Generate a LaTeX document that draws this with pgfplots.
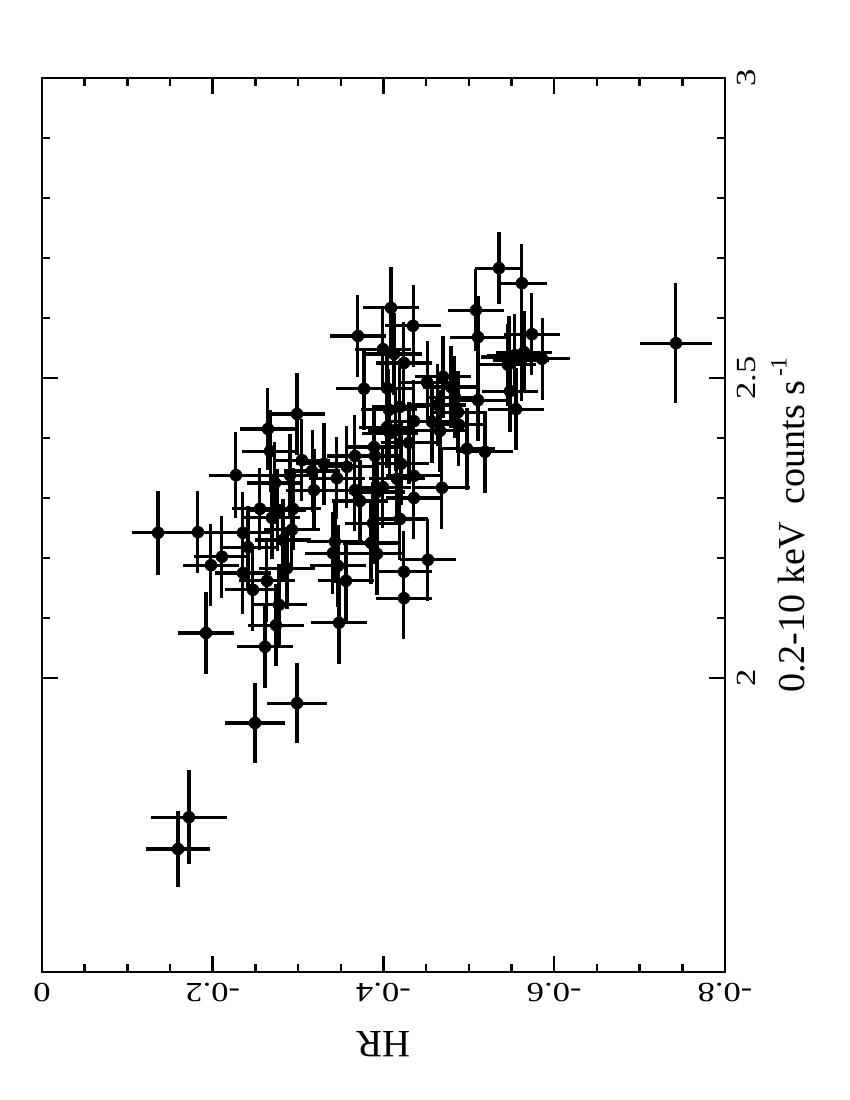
\documentclass[border=0pt]{standalone}
\usepackage{fontspec}
\setmainfont{Liberation Serif}
\newfontfamily\tickfont[FakeStretch=1.25]{Liberation Serif}
\usepackage{pgfplots}
\usepackage{pgfplotstable}
\pgfplotsset{compat=1.18}

\pgfplotstableread{
x y ex ey
-0.2647 2.415 0.033 0.068
-0.2671 2.378 0.033 0.068
-0.2272 2.338 0.032 0.072
-0.3045 2.363 0.033 0.068
-0.3163 2.345 0.033 0.068
-0.2905 2.338 0.033 0.068
-0.2729 2.325 0.033 0.068
-0.3186 2.313 0.033 0.068
-0.2553 2.282 0.033 0.068
-0.2764 2.280 0.033 0.068
-0.2940 2.282 0.033 0.068
-0.2694 2.267 0.033 0.068
-0.1359 2.242 0.030 0.070
-0.1827 2.243 0.033 0.068
-0.2354 2.242 0.033 0.068
-0.2928 2.247 0.033 0.068
-0.2823 2.230 0.033 0.068
-0.2413 2.218 0.033 0.068
-0.2108 2.202 0.033 0.068
-0.1979 2.188 0.033 0.068
-0.2870 2.183 0.033 0.068
-0.2354 2.175 0.033 0.068
-0.2635 2.162 0.033 0.068
-0.2471 2.147 0.033 0.068
-0.2776 2.122 0.033 0.068
-0.2741 2.088 0.033 0.068
-0.1921 2.075 0.033 0.068
-0.2612 2.052 0.033 0.068
-0.1722 1.768 0.044 0.078
-0.1593 1.715 0.038 0.063
-0.2495 1.925 0.035 0.067
-0.2987 1.958 0.035 0.067
-0.2987 2.440 0.033 0.068
-0.3772 2.482 0.033 0.068
-0.3666 2.370 0.033 0.068
-0.3572 2.352 0.033 0.068
-0.3303 2.357 0.033 0.068
-0.4662 2.412 0.033 0.068
-0.4978 2.382 0.033 0.068
-0.4076 2.408 0.033 0.068
-0.4299 2.392 0.033 0.068
-0.3889 2.385 0.033 0.068
-0.3900 2.370 0.033 0.068
-0.4205 2.357 0.033 0.068
-0.3455 2.333 0.033 0.068
-0.4158 2.332 0.033 0.068
-0.4357 2.337 0.033 0.068
-0.3666 2.313 0.033 0.068
-0.3924 2.310 0.033 0.068
-0.3994 2.318 0.033 0.068
-0.4685 2.317 0.033 0.068
-0.3725 2.295 0.033 0.068
-0.4357 2.300 0.033 0.068
-0.4193 2.265 0.033 0.068
-0.3877 2.258 0.033 0.068
-0.3432 2.227 0.033 0.068
-0.3854 2.225 0.033 0.068
-0.3408 2.208 0.033 0.068
-0.3924 2.207 0.033 0.068
-0.4521 2.197 0.033 0.068
-0.3467 2.187 0.033 0.068
-0.4240 2.177 0.033 0.068
-0.3561 2.162 0.033 0.068
-0.4240 2.133 0.033 0.068
-0.3479 2.092 0.033 0.068
-0.4088 2.617 0.033 0.068
-0.5083 2.613 0.033 0.068
-0.4346 2.587 0.033 0.068
-0.3701 2.570 0.033 0.068
-0.5107 2.568 0.033 0.068
-0.3994 2.548 0.033 0.068
-0.4123 2.540 0.033 0.068
-0.4240 2.525 0.033 0.068
-0.4041 2.483 0.033 0.068
-0.4510 2.493 0.033 0.068
-0.4697 2.502 0.033 0.068
-0.4791 2.485 0.033 0.068
-0.4837 2.468 0.033 0.068
-0.5107 2.463 0.033 0.068
-0.4638 2.455 0.033 0.068
-0.4193 2.452 0.033 0.068
-0.4064 2.447 0.033 0.068
-0.4357 2.428 0.033 0.068
-0.4568 2.427 0.033 0.068
-0.4873 2.443 0.033 0.068
-0.4884 2.422 0.033 0.068
-0.4146 2.413 0.033 0.068
-0.4041 2.418 0.033 0.068
-0.5353 2.683 0.028 0.060
-0.5622 2.658 0.029 0.065
-0.5739 2.573 0.033 0.068
-0.5646 2.543 0.033 0.068
-0.5540 2.538 0.033 0.068
-0.5470 2.535 0.033 0.068
-0.5857 2.532 0.033 0.068
-0.5458 2.522 0.033 0.068
-0.5611 2.530 0.033 0.068
-0.5482 2.478 0.033 0.068
-0.5552 2.448 0.033 0.068
-0.5189 2.377 0.033 0.068
-0.7426 2.558 0.042 0.100
}\hrdata

\begin{document}
\begin{tikzpicture}
\path[use as bounding box] (-1.0668,-3.2512) rectangle (20.5232,24.6888);
\begin{axis}[
  at={(0,0)}, anchor=south west,
  scale only axis,
  width=17.348cm, height=22.708cm,
  xmin=-0.8, xmax=0, x dir=reverse,
  ymin=1.51, ymax=3,
  xtick={0,-0.2,-0.4,-0.6,-0.8},
  xticklabels={0,-0.2,-0.4,-0.6,-0.8},
  ytick={2,2.5,3},
  yticklabels={2,2.5,3},
  minor x tick num=3,
  minor y tick num=4,
  xtick pos=both, ytick pos=both,
  yticklabel pos=right,
  xticklabel pos=left,
  tick align=inside,
  major tick length=4mm,
  minor tick length=2mm,
  axis line style={line width=1.8pt},
  every tick/.style={black, line width=1.8pt},
  every minor tick/.style={black, line width=1.8pt},
  xticklabel style={yshift=-2.8mm, anchor=south, rotate=180, inner sep=0pt, font=\tickfont\fontsize{20}{23}\selectfont},
  yticklabel style={xshift=3.0mm, anchor=north, rotate=90, inner sep=0pt, font=\tickfont\fontsize{20}{23}\selectfont},
  xlabel={HR},
  ylabel={0.2-10 keV\hspace{0.45em}counts s\raisebox{1.0ex}{\fontsize{17}{19}\selectfont \,-1}},
  every axis x label/.style={at={(axis description cs:0.5,0)}, yshift=-15mm, anchor=base, rotate=180, inner sep=0pt, font=\fontsize{28}{32}\selectfont},
  every axis y label/.style={at={(axis description cs:1,0.5)}, xshift=20.1mm, anchor=base, rotate=90, inner sep=0pt, font=\fontsize{27.5}{31}\selectfont},
  clip=false,
]
\addplot[black, only marks, mark=*, mark size=4.3pt,
  error bars/.cd,
    x dir=both, x explicit,
    y dir=both, y explicit,
    error mark=none,
    error bar style={line width=2.2pt, black}]
  table[x=x, y=y, x error=ex, y error=ey]{\hrdata};
\end{axis}
\end{tikzpicture}
\end{document}
